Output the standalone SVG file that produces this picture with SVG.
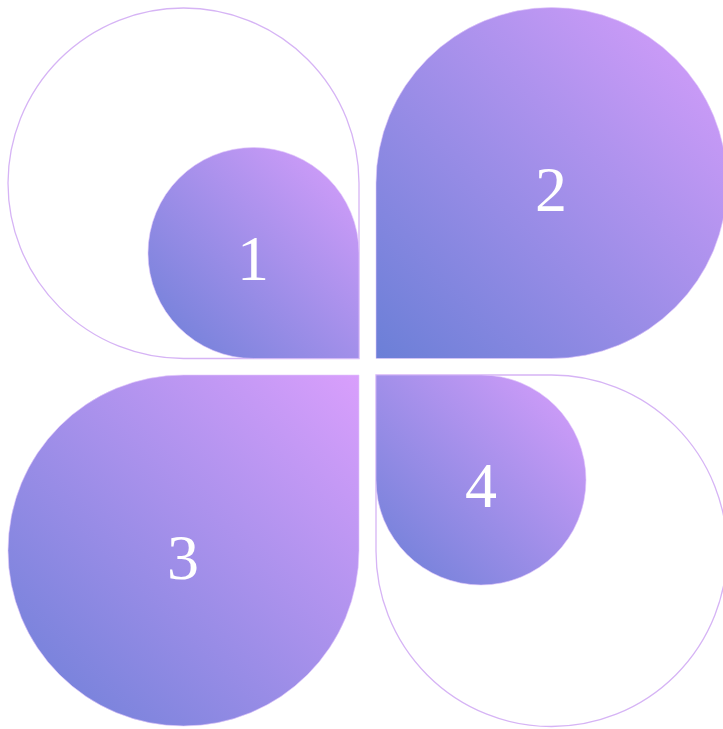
<svg xmlns="http://www.w3.org/2000/svg" width="723" height="729" viewBox="0 0 723 729">
<defs>
<linearGradient id="g" x1="0" y1="1" x2="1" y2="0">
<stop offset="0" stop-color="#6b7fd7"/>
<stop offset="1" stop-color="#d99ffc"/>
</linearGradient>
<style>
.fill{fill:url(#g);stroke:#e2c8fb;stroke-width:1;stroke-opacity:0.6}
.outline{fill:none;stroke:#d6b4f5;stroke-width:1.3}
.lbl{font-family:"Liberation Serif","DejaVu Serif",serif;font-size:64px;fill:#ffffff;text-anchor:middle}
</style>
</defs>
<rect width="723" height="729" fill="#ffffff"/>
<g id="node1">
<path class="outline" d="M359,358.5 H183.5 A175.5,175.5 0 0 1 8,183 A175.5,175.5 0 0 1 183.5,8 A175.5,175.5 0 0 1 359,183 Z"/>
<path class="fill" d="M359,358.5 H253.5 A105.5,105.5 0 0 1 148,253 A105.5,105.5 0 0 1 253.5,147.5 A105.5,105.5 0 0 1 359,253 Z"/>
<text class="lbl" x="253" y="280">1</text>
</g>
<g id="node2">
<path class="fill" d="M376,358.5 V183 A175.5,175.5 0 0 1 551.5,7.5 A175.5,175.5 0 0 1 727,183 A175.5,175.5 0 0 1 551.5,358.5 Z"/>
<text class="lbl" x="551" y="211">2</text>
</g>
<g id="node3">
<path class="fill" d="M359,375 V550.5 A175.5,175.5 0 0 1 183.5,726 A175.5,175.5 0 0 1 8,550.5 A175.5,175.5 0 0 1 183.5,375 Z"/>
<text class="lbl" x="183" y="579">3</text>
</g>
<g id="node4">
<path class="outline" d="M376,375 H551.5 A175.5,175.5 0 0 1 727,550.5 A175.5,175.5 0 0 1 551.5,726.5 A175.5,175.5 0 0 1 376,550.5 Z"/>
<path class="fill" d="M376,375 H481 A105,105 0 0 1 586,480 A105,105 0 0 1 481,585 A105,105 0 0 1 376,480 Z"/>
<text class="lbl" x="481" y="507">4</text>
</g>
<g id="connectors"/>
</svg>
